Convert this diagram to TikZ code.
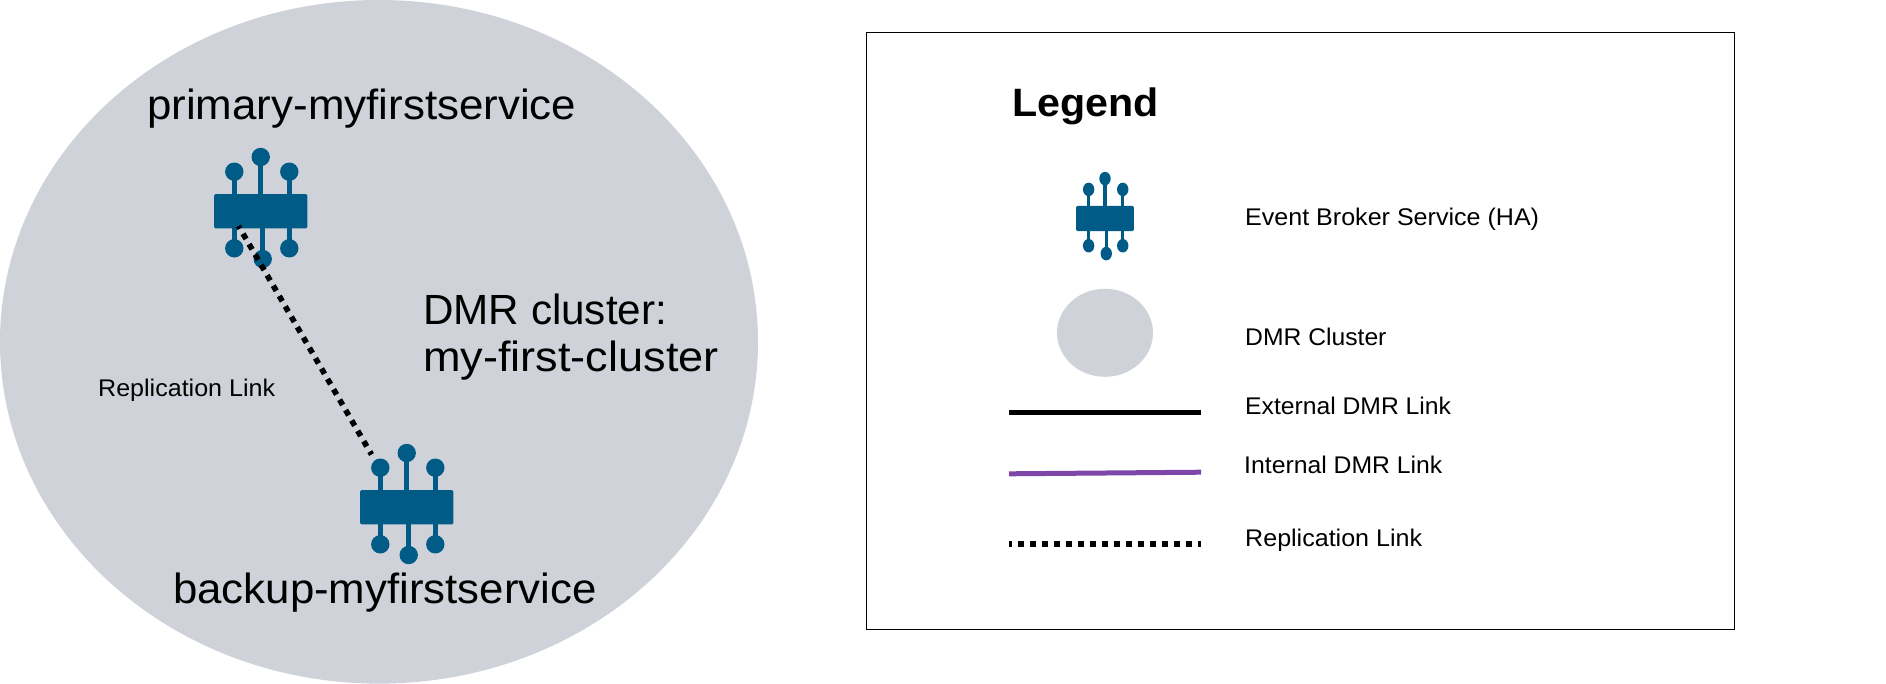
\documentclass[tikz,border=0pt]{standalone}
\usepackage{fontspec}
\setmainfont[FakeStretch=1.04]{Liberation Sans}
\definecolor{clusterfill}{HTML}{CFD2D9}
\definecolor{brokerblue}{HTML}{005C87}
\definecolor{linkpurple}{HTML}{7D46A8}
\tikzset{
  big/.style={anchor=base west,inner sep=0pt,font=\fontsize{42.2}{48}\selectfont},
  small/.style={anchor=base west,inner sep=0pt,font=\fontsize{24.1}{30}\selectfont},
  legendtitle/.style={anchor=base west,inner sep=0pt,font=\fontsize{39.6}{45}\selectfont\bfseries},
  replink/.style={draw=black,line width=5.6pt,dash pattern=on 6pt off 6pt},
  broker/.pic={
    \fill[brokerblue,rounded corners=1.5pt] (-46.7,-17) rectangle (46.7,17.4);
    \foreach \a/\b in {-26.4/-39.3,0/-54,28.6/-39.3}{
      \fill[brokerblue] (\a-2.7,-17) rectangle (\a+2.7,\b);
      \fill[brokerblue] (\a,\b) circle[radius=9.2];}
    \foreach \a/\b in {-26.4/37.3,2/48,28.6/37.3}{
      \fill[brokerblue] (\a-2.7,17) rectangle (\a+2.7,\b);
      \fill[brokerblue] (\a,\b) circle[radius=9.2];}
  }
}
\begin{document}
\begin{tikzpicture}[x=1pt,y=-1pt]
\useasboundingbox (0,0) rectangle (1886,683);
\fill[clusterfill] (379,341.8) ellipse[x radius=379,y radius=341.8];
\pic at (260.7,211) {broker};
\pic at (406.7,507) {broker};
\coordinate (repA) at (238.5,226);
\coordinate (repB) at (371.5,454.5);
\draw[replink,dash phase=3pt] (repA) -- (repB);
\node[big] (primary) at (147,119) {primary-myfirstservice};
\node[big] (backup) at (173,603.5) {\scalebox{.998}[1]{backup-myfirstservice}};
\node[big] (dmrone) at (423,324) {\scalebox{.962}[1]{DMR cluster:}};
\node[big] (dmrtwo) at (423,371) {\scalebox{1.027}[1]{my-first-cluster}};
\node[small] (replabel) at (98,396.5) {Replication Link};
\node[draw=black,line width=1.2pt,minimum width=868.4pt,minimum height=597pt,inner sep=0pt,anchor=center] (legendbox) at (1300.5,331) {};
\node[legendtitle] (legendhead) at (1012,116) {Legend};
\pic[xscale=.62,yscale=.735] at (1105,218.3) {broker};
\fill[clusterfill] (1105,332.8) ellipse[x radius=48,y radius=44];
\coordinate (extA) at (1009,412.8);
\coordinate (extB) at (1201,412.8);
\draw[line width=5pt] (extA) -- (extB);
\coordinate (intA) at (1009,473.8);
\coordinate (intB) at (1201,472.2);
\draw[line width=5pt,linkpurple] (intA) -- (intB);
\coordinate (repC) at (1009,543.8);
\coordinate (repD) at (1201,543.8);
\draw[replink,dash phase=3pt] (repC) -- (repD);
\node[small] (lgA) at (1245,225.5) {Event Broker Service (HA)};
\node[small] (lgB) at (1245,345.5) {\scalebox{.985}[1]{DMR Cluster}};
\node[small] (lgC) at (1245,414.3) {\scalebox{.985}[1]{External DMR Link}};
\node[small] (lgD) at (1244,473) {\scalebox{.988}[1]{Internal DMR Link}};
\node[small] (lgE) at (1245,546) {Replication Link};
\end{tikzpicture}
\end{document}
